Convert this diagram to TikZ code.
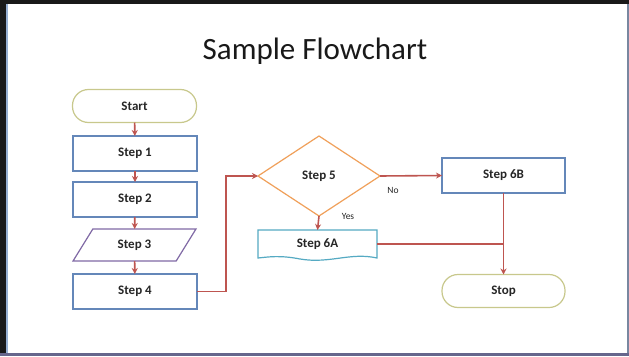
\documentclass[tikz,border=0pt]{standalone}
\usepackage{fontspec}
\setmainfont{Carlito}
\usetikzlibrary{shapes.geometric,arrows.meta}
\definecolor{boxblue}{RGB}{100,135,185}
\definecolor{termgreen}{RGB}{200,200,140}
\definecolor{stepviolet}{RGB}{128,105,165}
\definecolor{decorange}{RGB}{240,160,90}
\definecolor{docteal}{RGB}{85,170,195}
\definecolor{linkred}{RGB}{190,85,80}
\definecolor{frameblue}{RGB}{150,175,210}
\definecolor{frameside}{RGB}{120,135,160}
\begin{document}
\begin{tikzpicture}[x=1pt,y=-1pt,
  every node/.style={font=\bfseries\fontsize{13}{15}\selectfont, text=black!85, inner sep=0pt, outer sep=0pt},
  stepbox/.style={draw=boxblue, line width=1.2pt, minimum width=124pt, minimum height=35pt},
  termbox/.style={draw=termgreen, line width=1.2pt, rounded corners=16pt, minimum width=124pt, minimum height=33pt},
  iobox/.style={trapezium, trapezium left angle=53, trapezium right angle=127, trapezium stretches=true, draw=stepviolet, line width=1.2pt, minimum width=123pt, minimum height=32pt},
  decbox/.style={diamond, draw=decorange, line width=1.2pt, minimum width=122pt, minimum height=80pt},
  link/.style={draw=linkred, line width=1.6pt},
  arr/.style={link, -{Stealth[length=6pt,width=6pt]}},
  tag/.style={font=\fontsize{9.5}{11}\selectfont}]
\useasboundingbox (0,0) rectangle (629,356);
\fill[black!90] (0,0) rectangle (629,356);
\fill[frameside] (600,4) rectangle (629,356);
\fill[black!75!blue!60] (0,353) rectangle (629,356);
\fill[white] (6,4) rectangle (627,353);
\fill[frameblue] (6,4) rectangle (8,353);

\node[font=\fontsize{31}{35}\selectfont, text=black!90] (title) at (315,51) {Sample Flowchart};

\node[termbox] (start) at (134.5,106) {Start};
\node[stepbox] (s1) at (135,153.5) {Step 1};
\node[stepbox] (s2) at (135,199.5) {Step 2};
\node[iobox] (s3) at (134.5,245) {Step 3};
\node[stepbox] (s4) at (135,291.5) {Step 4};
\node[decbox] (s5) at (319,176) {Step 5};
\node[minimum width=119pt, minimum height=28pt] (s6a) at (317.5,244) {Step 6A};
\node[stepbox, minimum width=123pt] (s6b) at (503.5,175.5) {Step 6B};
\node[termbox, minimum width=123pt] (stop) at (503.5,291) {Stop};

\draw[draw=docteal, line width=1.2pt] (s6a.north west) -- (s6a.north east) -- (s6a.south east)
  .. controls (350,252) and (330,264) .. (300,259) .. controls (280,255) and (268,257) .. (s6a.south west) -- cycle;

\draw[arr] (start) -- (s1);
\draw[arr] (s1) -- (s2);
\draw[arr] (s2) -- (s3);
\draw[arr] (s3) -- (s4);
\draw[arr] (s4.east) -- ++(29,0) |- (s5.west);
\draw[arr] (s5.east) -- (s6b.west);
\draw[arr] (s5.south) -- (s6a.north);
\draw[link] (s6a.east) -- (s6a.east -| s6b.south);
\draw[arr] (s6b.south) -- (stop.north);

\node[tag] (yes) at (348,216) {Yes};
\node[tag] (no) at (393,190) {No};
\end{tikzpicture}
\end{document}
